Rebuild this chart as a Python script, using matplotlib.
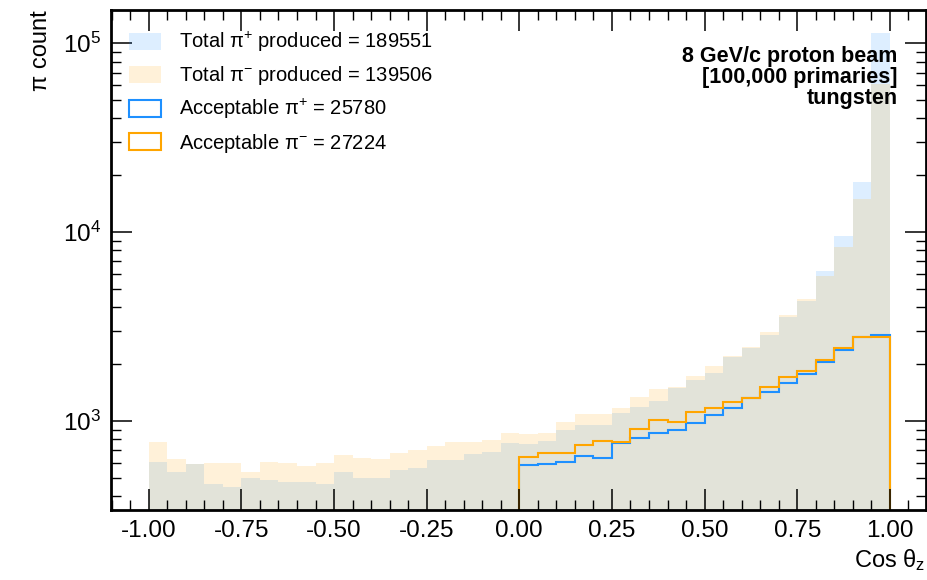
import numpy as np
import matplotlib
matplotlib.use("Agg")
import matplotlib.pyplot as plt
from matplotlib.patches import Patch
from matplotlib.ticker import MultipleLocator, LogLocator, NullFormatter, FormatStrFormatter

plt.rcParams["font.family"] = ["Liberation Sans", "DejaVu Sans"]
plt.rcParams["mathtext.fontset"] = "custom"
plt.rcParams["mathtext.rm"] = "Liberation Sans"
plt.rcParams["mathtext.it"] = "Liberation Sans:italic"
plt.rcParams["mathtext.bf"] = "Liberation Sans:bold"

# 40 bins in cos(theta_z), width 0.05
edges = np.linspace(-1.0, 1.0, 41)
acc_edges = np.linspace(0.0, 1.0, 21)

# all produced pions per bin
pip_total = [609, 537, 592, 464, 448, 501, 485, 477, 475, 462,
             537, 501, 501, 551, 562, 624, 624, 672, 683, 762,
             753, 781, 896, 952, 952, 1098, 1181, 1281, 1500, 1648,
             1787, 2190, 2426, 2851, 3564, 4333, 6237, 9489, 18330, 114000]
pim_total = [774, 629, 590, 598, 598, 535, 607, 600, 580, 600,
             658, 637, 627, 680, 700, 735, 771, 771, 796, 861,
             853, 861, 984, 1093, 1093, 1167, 1335, 1472, 1519, 1738,
             1954, 2217, 2455, 2966, 3646, 4426, 5848, 8337, 14960, 61000]

# pions inside the acceptance (forward hemisphere only)
pip_acc = [585, 594, 604, 655, 637, 765, 813, 861, 896, 972,
           1076, 1167, 1320, 1419, 1589, 1774, 2052, 2366, 2770, 2850]
pim_acc = [647, 674, 674, 744, 781, 770, 907, 1016, 984, 1116,
           1167, 1265, 1330, 1513, 1709, 1840, 2103, 2433, 2773, 2800]

n_pip, n_pim = 189551, 139506
n_pip_acc, n_pim_acc = 25780, 27224

fig = plt.figure(figsize=(9.28, 5.8), dpi=100)
ax = fig.add_axes([0.1196, 0.1207, 0.878, 0.862])

ax.stairs(pip_total, edges, fill=True, color="dodgerblue", alpha=0.15, baseline=1)
ax.stairs(pim_total, edges, fill=True, color="orange", alpha=0.15, baseline=1)
ax.stairs(pip_acc, acc_edges, color="dodgerblue", lw=1.5, baseline=1)
ax.stairs(pim_acc, acc_edges, color="orange", lw=1.5, baseline=1)

ax.set_yscale("log")
ax.set_xlim(-1.102, 1.097)
ax.set_ylim(338, 1.5e5)

ax.xaxis.set_major_locator(MultipleLocator(0.25))
ax.xaxis.set_minor_locator(MultipleLocator(0.05))
ax.xaxis.set_major_formatter(FormatStrFormatter("%.2f"))
ax.yaxis.set_major_locator(LogLocator(base=10))
ax.yaxis.set_minor_locator(LogLocator(base=10, subs=np.arange(2, 10)))
ax.yaxis.set_minor_formatter(NullFormatter())

for side in ax.spines.values():
    side.set_linewidth(2)
ax.tick_params(which="both", direction="in", top=True, right=True, labelsize=17.5)
ax.tick_params(which="major", length=15, width=1.1, pad=7)
ax.tick_params(which="minor", length=7.5, width=1.0)

ax.set_xlabel(r"Cos $\mathrm{\theta}_{\mathrm{z}}$", loc="right", fontsize=17)
ax.set_ylabel("π count", loc="top", fontsize=17, labelpad=8)

# legend boxes: filled for totals, outlined for the accepted pions
handles = [
    Patch(facecolor="dodgerblue", alpha=0.15, edgecolor="none"),
    Patch(facecolor="orange", alpha=0.15, edgecolor="none"),
    Patch(facecolor="none", edgecolor="dodgerblue", lw=1.5),
    Patch(facecolor="none", edgecolor="orange", lw=1.5),
]
labels = [
    r"Total $\mathrm{\pi}^{+}$ produced = %d" % n_pip,
    r"Total $\mathrm{\pi}^{-}$ produced = %d" % n_pim,
    r"Acceptable $\mathrm{\pi}^{+}$ = %d" % n_pip_acc,
    r"Acceptable $\mathrm{\pi}^{-}$ = %d" % n_pim_acc,
]
ax.legend(handles, labels, loc="upper left", frameon=False, fontsize=14.5,
          handlelength=1.6, handleheight=0.9, handletextpad=0.9,
          labelspacing=0.5, borderaxespad=0.5, bbox_to_anchor=(0.0, 0.996))

ax.text(0.9656, 0.928, "8 GeV/c proton beam\n[100,000 primaries]\ntungsten",
        transform=ax.transAxes, ha="right", va="top", fontsize=15.5,
        fontweight="bold", linespacing=1.0)

fig.savefig("out.png", dpi=100)
